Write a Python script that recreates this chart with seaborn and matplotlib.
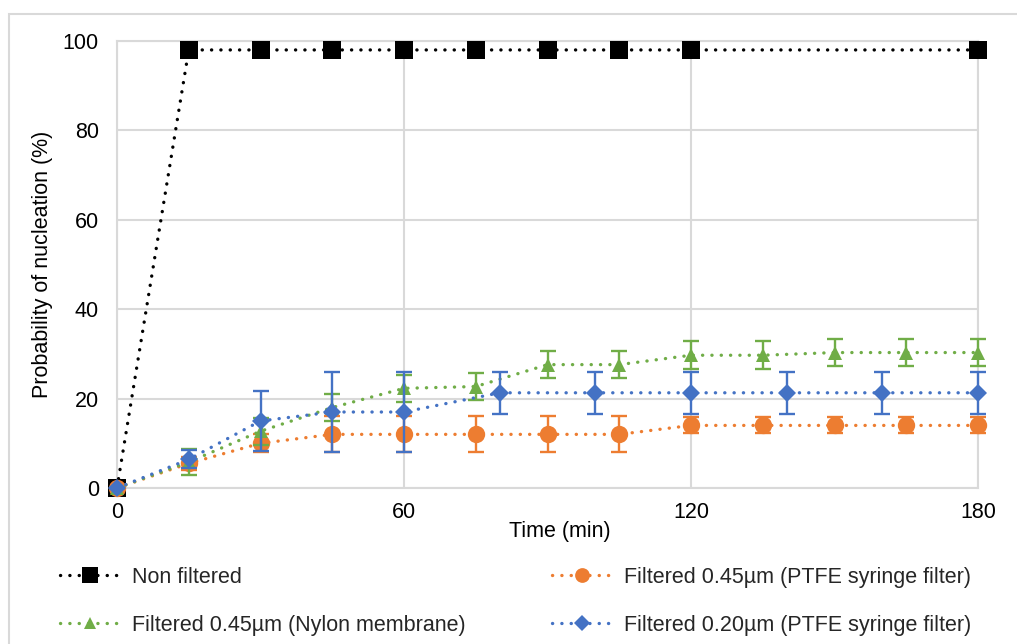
import matplotlib
matplotlib.use("Agg")
import matplotlib.pyplot as plt
import matplotlib.patches as mpatches
from matplotlib.lines import Line2D
import seaborn as sns
import pandas as pd

# ---------------------------------------------------------------
# Dados (tempo em min, probabilidade em %)
# ---------------------------------------------------------------
t_non = [0, 15, 30, 45, 60, 75, 90, 105, 120, 180]
p_non = [0, 98, 98, 98, 98, 98, 98, 98, 98, 98]

t_ptfe45 = [0, 15, 30, 45, 60, 75, 90, 105, 120, 135, 150, 165, 180]
p_ptfe45 = [0, 5.5, 10, 12, 12, 12, 12, 12, 14, 14, 14, 14, 14]
e_ptfe45 = [0, 1.5, 2, 4, 4, 4, 4, 4, 1.8, 1.8, 1.8, 1.8, 1.8]

t_nylon = [0, 15, 30, 45, 60, 75, 90, 105, 120, 135, 150, 165, 180]
p_nylon = [0, 5.8, 12.7, 18, 22.3, 22.7, 27.6, 27.6, 29.7, 29.7, 30.3, 30.3, 30.3]
e_nylon = [0, 3, 3, 3, 3, 3, 3, 3, 3.1, 3.1, 3.1, 3.1, 3.1]

t_ptfe20 = [0, 15, 30, 45, 60, 80, 100, 120, 140, 160, 180]
p_ptfe20 = [0, 6.4, 15, 17, 17, 21.3, 21.3, 21.3, 21.3, 21.3, 21.3]
e_ptfe20 = [0, 2, 6.7, 9, 9, 4.7, 4.7, 4.7, 4.7, 4.7, 4.7]

labels = ["Non filtered",
          "Filtered 0.45\u00b5m (PTFE syringe filter)",
          "Filtered 0.45\u00b5m (Nylon membrane)",
          "Filtered 0.20\u00b5m (PTFE syringe filter)"]

# ---------------------------------------------------------------
# Estilo
# ---------------------------------------------------------------
sns.set_theme(style="whitegrid")
plt.rcParams['font.family'] = ['Liberation Sans', 'DejaVu Sans']
fs = 15.5
lw = 2.4
pontilhado = (0, (0.05, 2.75))   # pontos redondos

fig = plt.figure(figsize=(10.17, 6.44), dpi=100)
ax = fig.add_axes([117 / 1017, 156 / 644, 861 / 1017, 447 / 644])

# moldura externa clara (estilo Excel)
fig.patches.append(mpatches.Rectangle((9 / 1017, -0.05), 1.2, 630 / 644 + 0.05,
                                      transform=fig.transFigure, fill=False,
                                      edgecolor='#d9d9d9', linewidth=1.5))

series = [
    (t_non, p_non, None, 'black', 's', 13, labels[0]),
    (t_ptfe45, p_ptfe45, e_ptfe45, '#ED7D31', 'o', 12.5, labels[1]),
    (t_nylon, p_nylon, e_nylon, '#70AD47', '^', 10.5, labels[2]),
    (t_ptfe20, p_ptfe20, e_ptfe20, '#4472C4', 'D', 9, labels[3]),
]

handles = {}
for z, (tt, pp, ee, cor, mk, ms, lab) in enumerate(series):
    df = pd.DataFrame({'Tempo': tt, 'Prob': pp})
    sns.lineplot(data=df, x='Tempo', y='Prob', ax=ax, color=cor, linewidth=lw,
                 linestyle=pontilhado, dash_capstyle='round',
                 marker=mk, markersize=ms, markeredgewidth=0, clip_on=False,
                 zorder=3 + z, legend=False)
    if ee is not None:
        ax.errorbar(tt, pp, yerr=ee, fmt='none', ecolor=cor, elinewidth=1.7,
                    capsize=5.5, capthick=1.7, zorder=3 + z, clip_on=False)
    handles[lab] = Line2D([], [], color=cor, linewidth=lw, linestyle=pontilhado,
                          dash_capstyle='round', marker=mk, markersize=ms * 0.85,
                          markeredgewidth=0)

ax.set_xlim(0, 180)
ax.set_ylim(0, 100)
ax.set_xticks([0, 60, 120, 180])
ax.set_yticks([0, 20, 40, 60, 80, 100])
ax.grid(True, color='#d9d9d9', linewidth=1.5)
for s in ax.spines.values():
    s.set_color('#d9d9d9')
    s.set_linewidth(1.5)
ax.tick_params(axis='both', length=0, labelsize=fs, colors='black')
ax.tick_params(axis='y', pad=13)
ax.tick_params(axis='x', pad=10)

ax.set_xlabel('Time (min)', fontsize=fs, color='black')
ax.set_ylabel('Probability of nucleation (%)', fontsize=fs, color='black')
ax.xaxis.set_label_coords(0.5145, -0.074)
ax.yaxis.set_label_coords(-0.074, 0.5)

# legenda em duas colunas abaixo do grafico
ordem = [labels[0], labels[2], labels[1], labels[3]]
fig.legend([handles[l] for l in ordem], ordem, loc='upper left',
           bbox_to_anchor=(60 / 1017, 1 - 567 / 644), ncol=2, frameon=False,
           fontsize=fs, handlelength=2.8, handletextpad=0.56, columnspacing=4.0,
           labelspacing=1.25, borderpad=0, borderaxespad=0, numpoints=1)

fig.savefig('out.png', dpi=100)
